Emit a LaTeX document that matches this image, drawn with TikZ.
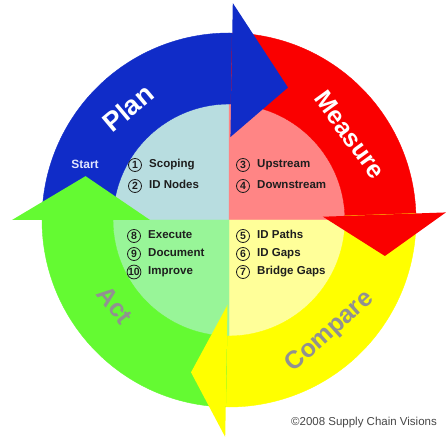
\documentclass[tikz,border=0pt]{standalone}
\usepackage{fontspec}
\setmainfont{Liberation Sans}
\usepackage{tikz}

\definecolor{planblue}{RGB}{16,44,200}
\definecolor{measred}{RGB}{250,0,0}
\definecolor{compyellow}{RGB}{255,255,0}
\definecolor{actgreen}{RGB}{100,250,50}
\definecolor{qblue}{RGB}{184,221,224}
\definecolor{qred}{RGB}{255,133,133}
\definecolor{qyellow}{RGB}{255,255,153}
\definecolor{qgreen}{RGB}{152,245,152}
\definecolor{labgray}{RGB}{145,145,145}
\definecolor{txtdark}{RGB}{30,30,30}

\begin{document}
\begin{tikzpicture}[x=1pt,y=1pt]
	\tikzstyle{every node}+=[inner sep=0pt]
	\tikzstyle{numcirc}=[draw=txtdark, circle, line width=0.8pt, minimum size=13pt, text=txtdark, font=\bfseries\fontsize{10.5}{11}\selectfont]
	\tikzstyle{steptext}=[anchor=west, text=txtdark, text height=8pt, text depth=2pt, font=\bfseries\fontsize{11.5}{12}\selectfont]
	\tikzstyle{biglabel}=[font=\bfseries\fontsize{25}{26}\selectfont]
	\tikzstyle{part}=[line width=0.4pt, line join=round]
	\useasboundingbox (-229,-218) rectangle (217,220);
	% inner quarters
	\filldraw [part, qblue] (0,0) -- (90:116) arc [start angle=90, end angle=180, radius=116] -- cycle;
	\filldraw [part, qred] (0,0) -- (0:116) arc [start angle=0, end angle=90, radius=116] -- cycle;
	\filldraw [part, qyellow] (0,0) -- (-90:116) arc [start angle=-90, end angle=0, radius=116] -- cycle;
	\filldraw [part, qgreen] (0,0) -- (180:116) arc [start angle=180, end angle=270, radius=116] -- cycle;
	% ring parts
	\filldraw [part, planblue] (180:187) arc [start angle=180, end angle=89, radius=187] -- (89:116) arc [start angle=89, end angle=180, radius=116] -- cycle;
	\filldraw [part, measred] (89:187) arc [start angle=89, end angle=2, radius=187] -- (2:116) arc [start angle=2, end angle=89, radius=116] -- cycle;
	\filldraw [part, compyellow] (2:187) arc [start angle=2, end angle=-91, radius=187] -- (-91:116) arc [start angle=-91, end angle=2, radius=116] -- cycle;
	\filldraw [part, actgreen] (-91:187) arc [start angle=-91, end angle=-180, radius=187] -- (-180:116) arc [start angle=-180, end angle=-91, radius=116] -- cycle;
	% heads
	\fill [planblue] (89:83) -- (89:217) -- (66:145) -- cycle;
	\fill [measred] (2:94) -- (2:217) -- (-13:160) -- cycle;
	\fill [compyellow] (-91:85) -- (-91:217) -- (-104:157) -- cycle;
	\fill [actgreen] (180:79) -- (180:217) -- (163:150) -- cycle;
	% big labels
	\node [biglabel, text=white, rotate=40] (plan) at (-101,112) {\fontsize{27}{28}\selectfont Plan};
	\node [biglabel, text=white, rotate=-54] (measure) at (121,85) {Measure};
	\node [biglabel, text=labgray, rotate=42] (compare) at (101,-112) {Compare};
	\node [biglabel, text=labgray, rotate=-52] (act) at (-114,-85) {Act};
	\node [text={rgb,255:red,225;green,230;blue,255}, font=\bfseries\fontsize{12}{13}\selectfont] (start) at (-144,56) {Start};
	% steps
	\node [numcirc] (c1) at (-94,55) {1};
	\node [steptext] (s1) at (-80,55) {Scoping};
	\node [numcirc] (c2) at (-94,34) {2};
	\node [steptext] (s2) at (-80,34) {ID Nodes};
	\node [numcirc] (c3) at (14,55) {3};
	\node [steptext] (s3) at (28,55) {Upstream};
	\node [numcirc] (c4) at (14,34) {4};
	\node [steptext] (s4) at (28,34) {Downstream};
	\node [numcirc] (c5) at (14,-16) {5};
	\node [steptext] (s5) at (28,-16) {ID Paths};
	\node [numcirc] (c6) at (14,-34) {6};
	\node [steptext] (s6) at (28,-34) {ID Gaps};
	\node [numcirc] (c7) at (14,-52) {7};
	\node [steptext] (s7) at (28,-52) {Bridge Gaps};
	\node [numcirc] (c8) at (-95,-16) {8};
	\node [steptext] (s8) at (-81,-16) {Execute};
	\node [numcirc] (c9) at (-95,-34) {9};
	\node [steptext] (s9) at (-81,-34) {Document};
	\node [numcirc] (c10) at (-95,-52) {10};
	\node [steptext] (s10) at (-81,-52) {Improve};
	% footer
	\node [text={rgb,255:red,70;green,70;blue,70}, font=\fontsize{11.5}{12}\selectfont] (copy) at (135,-203) {\textcopyright2008 Supply Chain Visions};
\end{tikzpicture}
\end{document}
